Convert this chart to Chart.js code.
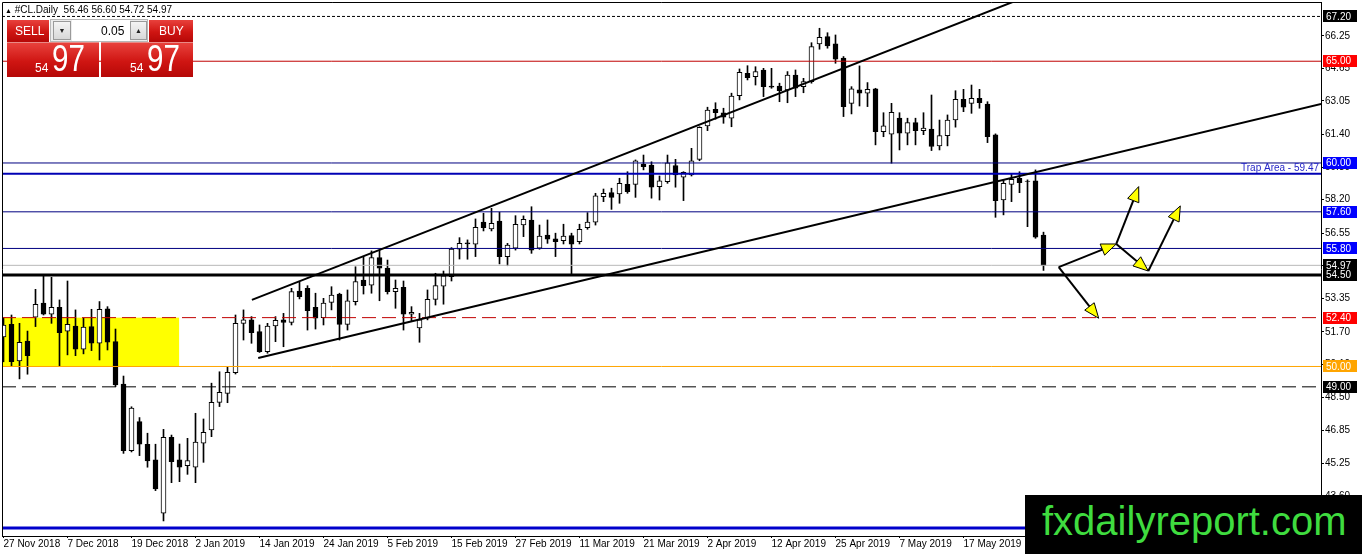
<!DOCTYPE html>
<html>
<head>
<meta charset="utf-8">
<title>#CL.Daily</title>
<script src="https://cdn.jsdelivr.net/npm/chart.js@4.4.1/dist/chart.umd.min.js"></script>
<style>
html,body{margin:0;padding:0;background:#fff;overflow:hidden}
#wrap{position:relative;width:1362px;height:554px;font-family:'Liberation Sans',Arial,sans-serif}
#c{position:absolute;left:0;top:0}
.ov{position:absolute;white-space:pre;line-height:1}
.red{position:absolute;background:linear-gradient(to bottom,#e8413c 0%,#cf1512 55%,#b50807 100%)}
.wt{color:#fff}
.btn{position:absolute;background:linear-gradient(#f4f4f4,#d8d8d8);border:1px solid #9a9a9a;box-sizing:border-box;font-size:7px;color:#222;text-align:center;line-height:17px}
</style>
</head>
<body>
<div id="wrap">
<canvas id="c" width="1362" height="554"></canvas>

<div class="ov" style="left:5px;top:4.5px;font-size:10px;color:#000"><span style="font-size:7px">▲</span> #CL.Daily  56.46 56.60 54.72 54.97</div>

<div class="red" style="left:7px;top:20px;width:42px;height:22px"></div>
<div class="ov wt" style="left:15px;top:24.8px;font-size:12px">SELL</div>
<div style="position:absolute;left:50px;top:19px;width:98px;height:23px;background:#ececec;border:1px solid #b8b8b8;box-sizing:border-box"></div>
<div class="btn" style="left:53px;top:21px;width:18px;height:19px">▼</div>
<div style="position:absolute;left:72px;top:20px;width:58px;height:21px;background:#fff"></div>
<div class="ov" style="left:101px;top:24.8px;font-size:12px;color:#000">0.05</div>
<div class="btn" style="left:130px;top:21px;width:17px;height:19px">▲</div>
<div class="red" style="left:149px;top:20px;width:44px;height:22px"></div>
<div class="ov wt" style="left:159px;top:24.8px;font-size:12px">BUY</div>

<div class="red" style="left:7px;top:42px;width:92px;height:35px;border-top:1px solid #e98a86;box-sizing:border-box"></div>
<div class="ov wt" style="left:35px;top:61.8px;font-size:12px">54</div>
<div class="ov wt" style="left:52px;top:41.4px;font-size:36px;transform:scaleX(0.82);transform-origin:left top">97</div>
<div class="red" style="left:101px;top:42px;width:92px;height:35px;border-top:1px solid #e98a86;box-sizing:border-box"></div>
<div class="ov wt" style="left:130px;top:61.8px;font-size:12px">54</div>
<div class="ov wt" style="left:147px;top:41.4px;font-size:36px;transform:scaleX(0.82);transform-origin:left top">97</div>

<div style="position:absolute;left:1025px;top:495px;width:337px;height:59px;background:#000"></div>
<div class="ov" style="left:1042px;top:501.1px;font-size:40px;color:#3fdc3f">fxdailyreport.com</div>
</div>

<script>
// ---------------- data ----------------
const xTickIdx = [0, 8, 16, 24, 32, 40, 48, 56, 64, 72, 80, 88, 96, 104, 112, 120];
const xTickLabels = ['27 Nov 2018','7 Dec 2018','19 Dec 2018','2 Jan 2019','14 Jan 2019','24 Jan 2019','5 Feb 2019','15 Feb 2019','27 Feb 2019','11 Mar 2019','21 Mar 2019','2 Apr 2019','12 Apr 2019','25 Apr 2019','7 May 2019','17 May 2019'];
const yTickVals = [66.25, 64.65, 63.05, 61.40, 59.80, 58.20, 56.55, 54.95, 53.35, 51.70, 50.10, 48.50, 46.85, 45.25, 43.60];

const openP = [51.45,52.07,50.27,51.25,52.42,53.12,52.57,52.91,51.74,51.99,
 50.85,51.96,51.14,52.83,51.22,49.14,45.86,47.29,46.18,45.41,
 42.79,46.52,45.41,45.13,45.05,46.23,46.88,48.24,48.68,49.70,
 52.12,52.29,51.71,50.73,51.99,52.29,52.17,53.71,53.84,52.91,
 52.40,53.15,53.56,52.07,53.19,54.25,54.00,55.35,54.83,53.68,
 53.89,52.57,51.90,52.37,53.30,53.95,54.41,55.77,56.07,56.01,
 57.09,56.76,57.15,55.40,55.81,56.95,57.20,55.81,56.46,56.27,
 56.18,56.43,56.13,56.82,57.09,58.35,58.54,58.48,58.95,58.95,
 59.95,59.90,58.84,59.08,59.87,59.30,59.41,60.18,61.82,62.64,
 62.47,62.20,63.31,64.41,64.24,64.57,63.78,63.78,63.59,64.32,
 63.75,64.00,65.85,66.21,65.85,65.15,62.93,63.59,63.43,63.64,
 61.54,61.41,62.20,61.46,61.98,61.59,61.66,60.84,61.34,62.11,
 63.13,62.93,63.18,62.90,61.38,58.18,58.95,59.25,59.11,59.12,
 56.46];
const highP = [52.38,52.53,52.12,51.74,53.79,54.50,54.38,53.27,54.20,52.78,
 52.37,52.81,53.19,52.94,51.84,49.53,48.02,47.49,46.72,46.18,
 46.91,46.63,46.19,46.47,47.70,47.42,49.18,49.74,49.96,52.53,
 52.78,52.45,52.04,52.12,52.45,52.61,53.84,54.14,53.97,53.60,
 53.35,53.92,53.60,53.76,54.90,55.40,55.68,55.72,55.23,54.25,
 54.20,52.94,52.61,53.76,54.58,54.69,55.84,56.33,56.22,57.25,
 57.53,57.77,57.58,56.05,57.41,57.40,57.85,56.95,57.20,56.55,
 56.99,56.55,56.99,57.56,58.51,58.72,58.76,59.25,59.57,60.15,
 60.39,60.06,59.36,60.39,60.18,59.57,60.72,61.78,62.74,62.96,
 62.69,63.43,64.62,64.78,64.73,64.65,64.65,63.92,64.49,64.57,
 64.16,65.91,66.62,66.40,66.29,65.23,63.75,64.77,63.95,63.67,
 62.47,62.93,62.47,62.20,62.20,62.47,63.34,62.11,62.36,63.55,
 63.62,63.83,63.62,63.01,61.43,59.17,59.49,59.57,59.17,59.66,
 56.60];
const lowP = [50.23,49.99,49.39,49.62,51.96,52.53,52.12,50.02,50.57,50.53,
 50.62,50.78,50.32,50.81,49.01,45.73,45.80,45.62,45.05,43.90,
 42.41,44.29,44.34,44.70,44.29,45.29,46.55,48.03,48.22,49.63,
 51.30,51.14,50.69,50.65,51.22,50.97,52.04,53.32,51.79,51.84,
 52.04,52.78,51.30,51.79,53.02,53.56,53.60,53.23,53.56,52.86,
 51.79,52.20,51.19,52.29,53.02,53.06,54.20,55.28,55.27,55.40,
 56.66,56.66,55.04,54.95,55.72,56.38,55.56,55.76,56.05,55.40,
 56.02,54.50,56.02,56.74,56.95,58.10,57.72,58.02,58.51,58.31,
 59.66,58.27,58.18,59.00,58.81,58.15,59.36,60.11,61.59,62.15,
 61.95,61.78,63.10,64.08,63.83,63.26,63.67,63.01,62.96,63.26,
 63.45,63.92,65.59,65.64,64.90,62.28,62.41,62.80,62.77,60.89,
 61.29,59.99,60.64,60.89,60.89,61.39,60.61,60.64,60.84,61.76,
 62.52,62.44,62.69,61.00,57.33,57.45,58.10,58.54,56.87,56.30,
 54.72];
const closeP = [52.04,50.24,51.19,50.53,53.06,52.57,52.91,51.66,52.07,50.85,
 51.93,51.14,52.81,51.19,49.09,45.86,47.95,46.18,45.36,43.98,
 46.52,45.32,45.05,45.37,46.28,46.77,48.24,48.73,49.71,52.12,
 52.29,51.66,50.73,51.99,52.27,52.17,53.68,53.43,52.74,52.37,
 53.11,53.51,52.07,53.22,54.17,53.97,55.35,54.83,53.68,53.84,
 52.57,52.66,52.29,53.30,53.97,54.45,55.77,56.05,56.02,56.84,
 56.82,57.04,55.40,55.97,56.99,57.23,55.72,56.41,56.25,56.13,
 56.41,56.01,56.74,57.09,58.38,58.51,58.31,59.00,58.59,60.10,
 59.82,58.81,59.12,60.01,59.41,59.54,60.11,61.75,62.60,62.47,
 62.25,63.29,64.46,64.19,64.49,63.75,63.72,63.55,64.32,63.67,
 64.00,65.72,66.18,65.75,65.10,62.77,63.64,63.43,63.62,61.54,
 61.83,62.49,61.46,61.98,61.59,61.71,60.81,61.34,62.11,63.13,
 62.74,63.18,62.96,61.29,58.15,59.00,59.20,59.03,59.09,56.35,
 54.97];

// horizontal levels (price)
const levelValues = [67.20, 65.00, 60.00, 59.47, 57.60, 55.80, 54.97, 54.50, 52.40, 50.00, 49.00, 42.06];
// trend lines: [candle index, price]
const trendUpper = [[31.05, 53.27], [127.0, 68.04]];
const trendLower = [[31.84, 50.42], [164.7, 62.90]];
// yellow zone
const zonePrices = [52.40, 50.00];
const zoneEndIdx = 21.95;
// projected path arrows: [index, price]
const arrowPts = [[131.9, 54.88], [136.9, 52.37], [139.1, 56.02], [141.9, 58.84], [143.1, 54.69], [147.1, 57.89]];
const arrowSegs = [[0, 1], [0, 2], [2, 3], [2, 4], [4, 5]];
const trapText = 'Trap Area - 59.47';

// ---------------- styles ----------------
const FONT = "'Liberation Sans', Arial, sans-serif";
const levelStyle = [
  {color:'#000000', width:1, dash:[3,2],  box:'#000000'},
  {color:'#c00000', width:1, dash:[],     box:'#ff0000'},
  {color:'#000080', width:1, dash:[],     box:'#0000ff'},
  {color:'#0000b4', width:2, dash:[],     box:null},
  {color:'#000080', width:1, dash:[],     box:'#0000ff'},
  {color:'#000080', width:1, dash:[],     box:'#0000ff'},
  {color:'#b8b8b8', width:1, dash:[],     box:'#000000'},
  {color:'#000000', width:3, dash:[],     box:'#000000'},
  {color:'#c00000', width:1, dash:[14,6], box:'#ff0000'},
  {color:'#ffa500', width:1, dash:[],     box:'#ffa500'},
  {color:'#000000', width:1, dash:[14,6], box:'#000000'},
  {color:'#0000cc', width:3, dash:[],     box:null}
];
const X_MIN = -0.1875, X_MAX = 164.6875;
const Y_MIN = 41.67, Y_MAX = 67.91;

const N = closeP.length;
const idx = Array.from({length: N}, (_, i) => i);
const bodyData = idx.map(i => ({x: i, y: [openP[i], closeP[i]]}));
const wickData = idx.map(i => ({x: i, y: [lowP[i], highP[i]]}));
const bodyFill = idx.map(i => closeP[i] >= openP[i] ? '#ffffff' : '#000000');

const datasets = [
  {type:'bar', label:'body', data: bodyData, backgroundColor: bodyFill, borderColor:'#000', borderWidth:1,
   borderSkipped:false, barThickness:5, grouped:false, order:2},
  {type:'bar', label:'wick', data: wickData, backgroundColor:'#000', borderWidth:0,
   barThickness:1, grouped:false, order:3}
];
levelValues.forEach((v, k) => {
  const st = levelStyle[k];
  datasets.push({type:'line', label:'level' + k, data:[{x:X_MIN, y:v}, {x:X_MAX, y:v}],
    borderColor: st.color, borderWidth: st.width, borderDash: st.dash,
    pointRadius:0, fill:false, tension:0, order:1});
});
[trendUpper, trendLower].forEach((t, k) => {
  datasets.push({type:'line', label:'trend' + k, data: t.map(p => ({x:p[0], y:p[1]})),
    borderColor:'#000', borderWidth:2, pointRadius:0, fill:false, tension:0, order:0});
});

function drawArrow(ctx, x0, y0, x1, y1) {
  const ang = Math.atan2(y1 - y0, x1 - x0), L = 15, W = 6;
  const bx = x1 - L * Math.cos(ang), by = y1 - L * Math.sin(ang);
  ctx.strokeStyle = '#000'; ctx.lineWidth = 2;
  ctx.beginPath(); ctx.moveTo(x0, y0); ctx.lineTo(bx, by); ctx.stroke();
  ctx.beginPath(); ctx.moveTo(x1, y1);
  ctx.lineTo(bx + W * Math.sin(ang), by - W * Math.cos(ang));
  ctx.lineTo(bx - W * Math.sin(ang), by + W * Math.cos(ang));
  ctx.closePath();
  ctx.fillStyle = '#ffff00'; ctx.fill();
  ctx.lineWidth = 1; ctx.stroke();
}

const overlay = {
  id: 'overlay',
  beforeDatasetsDraw(chart) {
    const {ctx, chartArea: a, scales: {x, y}} = chart;
    ctx.save();
    ctx.fillStyle = '#ffff00';
    const x1 = x.getPixelForValue(zoneEndIdx);
    const y0 = y.getPixelForValue(zonePrices[0]), y1 = y.getPixelForValue(zonePrices[1]);
    ctx.fillRect(a.left, y0, x1 - a.left, y1 - y0);
    ctx.restore();
  },
  afterDatasetsDraw(chart) {
    const {ctx, chartArea: a, scales: {x, y}} = chart;
    ctx.save();
    ctx.beginPath(); ctx.rect(a.left, a.top, a.width, a.height); ctx.clip();
    arrowSegs.forEach(([s, e]) => {
      const p = arrowPts[s], q = arrowPts[e];
      drawArrow(ctx, x.getPixelForValue(p[0]), y.getPixelForValue(p[1]),
                     x.getPixelForValue(q[0]), y.getPixelForValue(q[1]));
    });
    ctx.fillStyle = '#2626c8';
    ctx.font = '10px ' + FONT;
    ctx.textAlign = 'right'; ctx.textBaseline = 'alphabetic';
    ctx.fillText(trapText, a.right - 2, y.getPixelForValue(levelValues[3]) - 2.5);
    ctx.restore();
    ctx.save();
    ctx.strokeStyle = '#000'; ctx.lineWidth = 1;
    ctx.beginPath();
    ctx.moveTo(a.left + 0.5, a.bottom); ctx.lineTo(a.left + 0.5, a.top + 0.5); ctx.lineTo(a.right, a.top + 0.5);
    ctx.stroke();
    ctx.restore();
  },
  afterDraw(chart) {
    const {ctx, chartArea: a, scales: {y}} = chart;
    ctx.save();
    ctx.font = '10px ' + FONT;
    ctx.textAlign = 'left'; ctx.textBaseline = 'middle';
    levelValues.forEach((v, k) => {
      const st = levelStyle[k];
      if (!st.box) return;
      const py = y.getPixelForValue(v);
      ctx.fillStyle = st.box;
      ctx.fillRect(a.right + 2, Math.round(py) - 6, 34, 12);
      ctx.fillStyle = '#ffffff';
      ctx.fillText(v.toFixed(2), a.right + 5, py + 0.5);
    });
    ctx.restore();
  }
};

new Chart(document.getElementById('c'), {
  type: 'bar',
  data: {datasets},
  options: {
    responsive: false,
    devicePixelRatio: 1,
    animation: false,
    events: [],
    layout: {autoPadding: false, padding: {left: 2, top: 2, right: 0, bottom: 0}},
    plugins: {legend: {display: false}, tooltip: {enabled: false}},
    scales: {
      x: {
        type: 'linear', min: X_MIN, max: X_MAX, offset: false,
        afterBuildTicks: s => { s.ticks = xTickIdx.map(v => ({value: v})); },
        afterFit: s => { s.height = 18; s.paddingLeft = 0; s.paddingRight = 0; s.paddingTop = 0; s.paddingBottom = 0; },
        ticks: {autoSkip: false, maxRotation: 0, minRotation: 0, align: 'start', padding: 0, color: '#000',
                font: {family: FONT, size: 10}, callback: (v, i) => xTickLabels[i]},
        grid: {display: true, drawOnChartArea: false, drawTicks: true, tickLength: 2, color: '#000', offset: false},
        border: {display: true, color: '#000', width: 1}
      },
      y: {
        type: 'linear', position: 'right', min: Y_MIN, max: Y_MAX, beginAtZero: false,
        afterBuildTicks: s => { s.ticks = yTickVals.map(v => ({value: v})); },
        afterFit: s => { s.width = 41; s.paddingTop = 0; s.paddingBottom = 0; s.paddingLeft = 0; s.paddingRight = 0; },
        ticks: {autoSkip: false, padding: 1, color: '#000', font: {family: FONT, size: 10},
                callback: v => Number(v).toFixed(2)},
        grid: {display: true, drawOnChartArea: false, drawTicks: true, tickLength: 3, color: '#000'},
        border: {display: true, color: '#000', width: 1}
      }
    }
  },
  plugins: [overlay]
});
</script>
</body>
</html>
